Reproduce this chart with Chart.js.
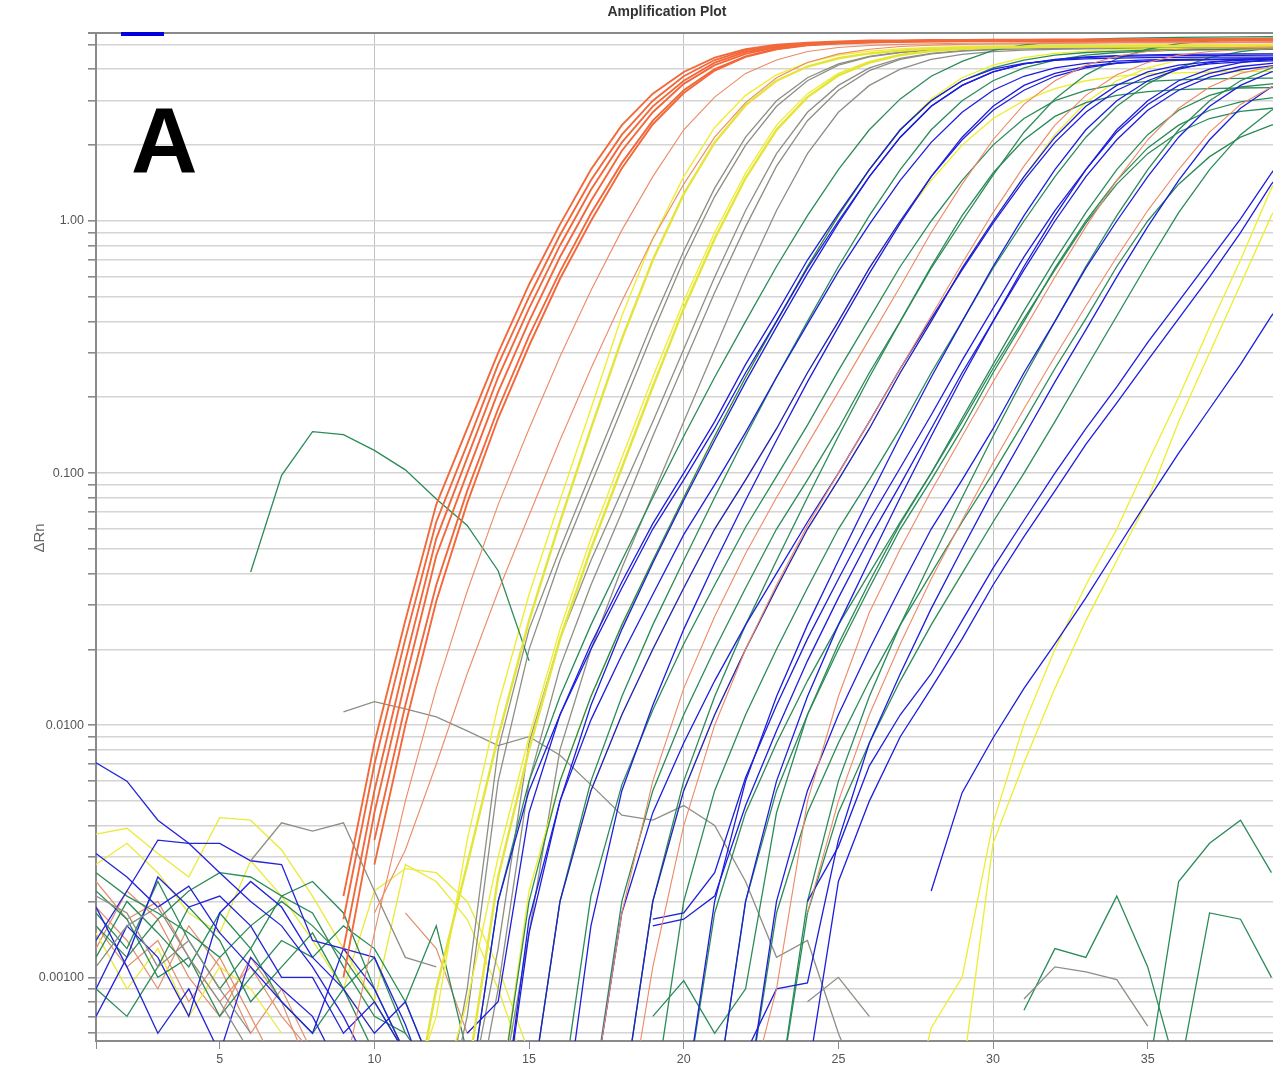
<!DOCTYPE html>
<html>
<head>
<meta charset="utf-8">
<script src="https://cdn.jsdelivr.net/npm/chart.js@4.4.1/dist/chart.umd.min.js"></script>
<style>
  html, body { margin: 0; padding: 0; background: #fff; }
  canvas { display: block; }
</style>
</head>
<body>
<canvas id="amp" width="1273" height="1065"></canvas>
<script>
// amplification plot, delta Rn per cycle, one run per well
const xTicks = [1, 5, 10, 15, 20, 25, 30, 35]
const yTicks = [0.0006, 0.0007, 0.0008, 0.0009, 0.001, 0.002, 0.003, 0.004, 0.005, 0.006, 0.007, 0.008, 0.009,
  0.01, 0.02, 0.03, 0.04, 0.05, 0.06, 0.07, 0.08, 0.09, 0.1, 0.2, 0.3, 0.4, 0.5, 0.6, 0.7, 0.8, 0.9, 1, 2, 3, 4, 5]
const yTickText = { "1": "1.00", "0.1": "0.100", "0.01": "0.0100", "0.001": "0.00100" }

const orangeRuns = [
  { from: 9, dRn: [0.0021, 0.0085, 0.026, 0.075, 0.15, 0.3, 0.56, 0.97, 1.6, 2.4, 3.2, 3.9, 4.45, 4.8, 5.0, 5.1, 5.15, 5.2, 5.2, 5.22, 5.22, 5.24, 5.24, 5.25, 5.25, 5.26, 5.26, 5.27, 5.27, 5.28, 5.28, 5.28] },
  { from: 9, dRn: [0.0017, 0.007, 0.022, 0.064, 0.13, 0.27, 0.5, 0.88, 1.45, 2.2, 3.0, 3.75, 4.35, 4.75, 4.95, 5.05, 5.12, 5.15, 5.18, 5.2, 5.2, 5.21, 5.22, 5.22, 5.23, 5.23, 5.24, 5.24, 5.25, 5.25, 5.25, 5.25] },
  { from: 9, dRn: [0.0013, 0.0055, 0.018, 0.055, 0.115, 0.24, 0.45, 0.8, 1.33, 2.05, 2.85, 3.6, 4.25, 4.68, 4.9, 5.02, 5.1, 5.14, 5.17, 5.18, 5.19, 5.2, 5.2, 5.21, 5.21, 5.22, 5.22, 5.22, 5.23, 5.23, 5.23, 5.23] },
  { from: 9, dRn: [0.001, 0.0045, 0.015, 0.047, 0.1, 0.21, 0.4, 0.72, 1.2, 1.9, 2.7, 3.5, 4.15, 4.6, 4.88, 5.0, 5.08, 5.12, 5.15, 5.16, 5.17, 5.18, 5.18, 5.19, 5.19, 5.2, 5.2, 5.2, 5.21, 5.21, 5.21, 5.21] },
  { from: 10, dRn: [0.0035, 0.012, 0.036, 0.085, 0.18, 0.35, 0.63, 1.07, 1.7, 2.5, 3.3, 4.0, 4.5, 4.82, 5.0, 5.08, 5.13, 5.16, 5.18, 5.19, 5.2, 5.2, 5.21, 5.21, 5.22, 5.22, 5.22, 5.23, 5.23, 5.23, 5.23] },
  { from: 10, dRn: [0.0028, 0.01, 0.031, 0.076, 0.165, 0.32, 0.59, 1.0, 1.62, 2.42, 3.22, 3.95, 4.48, 4.8, 4.98, 5.06, 5.1, 5.13, 5.15, 5.16, 5.17, 5.17, 5.18, 5.18, 5.18, 5.19, 5.19, 5.19, 5.2, 5.2, 5.2] }
]
const salmonRuns = [
  { from: 9, dRn: [0.0004, 0.0015, 0.005, 0.014, 0.034, 0.075, 0.15, 0.29, 0.53, 0.92, 1.5, 2.3, 3.1, 3.85, 4.35, 4.7, 4.88, 4.97, 5.02, 5.05, 5.07, 5.08, 5.09, 5.1, 5.1, 5.11, 5.11, 5.12, 5.12, 5.12, 5.13, 5.13] },
  { from: 10, dRn: [0.0018, 0.0032, 0.007, 0.016, 0.034, 0.068, 0.135, 0.26, 0.48, 0.85, 1.4, 2.15, 2.95, 3.7, 4.25, 4.6, 4.8, 4.92, 4.98, 5.02, 5.04, 5.05, 5.06, 5.07, 5.08, 5.08, 5.09, 5.09, 5.1, 5.1, 5.1] },
  { from: 17, dRn: [0.0003, 0.0018, 0.006, 0.014, 0.027, 0.048, 0.08, 0.13, 0.21, 0.34, 0.55, 0.9, 1.4, 2.1, 2.9, 3.6, 4.15, 4.5, 4.7, 4.8, 4.85, 4.88, 4.9, 4.91] },
  { from: 18, dRn: [0.0002, 0.0011, 0.004, 0.01, 0.02, 0.036, 0.062, 0.1, 0.16, 0.26, 0.42, 0.68, 1.08, 1.65, 2.4, 3.15, 3.8, 4.25, 4.55, 4.7, 4.78, 4.82, 4.84] },
  { from: 24, dRn: [0.0018, 0.005, 0.011, 0.021, 0.038, 0.065, 0.11, 0.18, 0.29, 0.46, 0.72, 1.1, 1.6, 2.25, 2.9, 3.4, 3.8] },
  { from: 22, dRn: [0.0003, 0.0009, 0.005, 0.013, 0.028, 0.05, 0.085, 0.14, 0.23, 0.37, 0.6, 0.95, 1.45, 2.1, 2.8, 3.4, 3.85, 4.1, 4.25] }
]
const yellowBoldRuns = [
  { from: 11, dRn: [0.0002, 0.0009, 0.0028, 0.009, 0.026, 0.064, 0.15, 0.34, 0.7, 1.28, 2.05, 2.88, 3.6, 4.1, 4.42, 4.62, 4.74, 4.82, 4.86, 4.89, 4.9, 4.91, 4.92, 4.92, 4.93, 4.93, 4.94, 4.94, 4.94, 4.94] },
  { from: 13, dRn: [0.0004, 0.0025, 0.008, 0.022, 0.05, 0.105, 0.22, 0.45, 0.85, 1.48, 2.3, 3.1, 3.78, 4.25, 4.55, 4.72, 4.82, 4.87, 4.9, 4.92, 4.93, 4.94, 4.94, 4.95, 4.95, 4.95, 4.96, 4.96] }
]
const yellowRuns = [
  { from: 11, dRn: [0.0003, 0.0007, 0.0035, 0.012, 0.033, 0.078, 0.18, 0.42, 0.85, 1.5, 2.35, 3.15, 3.8, 4.25, 4.55, 4.72, 4.82, 4.88, 4.92, 4.94, 4.96, 4.97, 4.98, 4.98, 4.99, 4.99, 5.0, 5.0, 5.0, 5.0] },
  { from: 12, dRn: [0.0003, 0.0008, 0.003, 0.009, 0.024, 0.055, 0.115, 0.24, 0.48, 0.9, 1.55, 2.4, 3.2, 3.85, 4.3, 4.58, 4.73, 4.82, 4.87, 4.9, 4.92, 4.93, 4.94, 4.94, 4.95, 4.95, 4.95, 4.96, 4.96] },
  { from: 14, dRn: [0.0003, 0.0022, 0.006, 0.013, 0.025, 0.045, 0.08, 0.14, 0.24, 0.4, 0.66, 1.05, 1.6, 2.3, 3.05, 3.7, 4.15, 4.45, 4.62, 4.72, 4.78, 4.81, 4.83, 4.84, 4.85, 4.85, 4.86] },
  { from: 15, dRn: [0.0003, 0.002, 0.0055, 0.011, 0.02, 0.035, 0.06, 0.094, 0.15, 0.25, 0.4, 0.65, 1.0, 1.45, 2.0, 2.55, 3.0, 3.35, 3.6, 3.75, 3.83, 3.87, 3.9, 3.91, 3.92, 3.92] },
  { from: 18, dRn: [0.0003, 0.002, 0.0055, 0.011, 0.02, 0.035, 0.06, 0.094, 0.15, 0.25, 0.4, 0.65, 1.0, 1.5, 2.2, 2.95, 3.6, 4.05, 4.35, 4.5, 4.58, 4.62, 4.64] },
  { from: 27, dRn: [0.0002, 0.00063, 0.001, 0.0041, 0.0101, 0.02, 0.036, 0.06, 0.11, 0.2, 0.38, 0.7, 1.35, 2.1] },
  { from: 29, dRn: [0.0004, 0.0034, 0.0071, 0.014, 0.026, 0.045, 0.078, 0.16, 0.3, 0.56, 1.05, 1.7] }
]
const grayRuns = [
  { from: 12, dRn: [0.0002, 0.0009, 0.008, 0.024, 0.05, 0.1, 0.2, 0.4, 0.76, 1.35, 2.15, 3.0, 3.7, 4.2, 4.5, 4.68, 4.78, 4.84, 4.87, 4.89, 4.9, 4.91, 4.91, 4.92, 4.92, 4.92, 4.93, 4.93, 4.93] },
  { from: 12, dRn: [0.0002, 0.0007, 0.006, 0.02, 0.045, 0.09, 0.18, 0.36, 0.7, 1.25, 2.0, 2.85, 3.6, 4.15, 4.48, 4.66, 4.76, 4.82, 4.85, 4.87, 4.88, 4.89, 4.9, 4.9, 4.9, 4.91, 4.91, 4.91, 4.91] },
  { from: 13, dRn: [0.0003, 0.0013, 0.0085, 0.022, 0.045, 0.085, 0.16, 0.31, 0.6, 1.1, 1.85, 2.7, 3.45, 4.05, 4.42, 4.62, 4.74, 4.8, 4.84, 4.86, 4.87, 4.88, 4.88, 4.89, 4.89, 4.89, 4.9, 4.9] },
  { from: 13, dRn: [0.0002, 0.0009, 0.006, 0.017, 0.036, 0.07, 0.14, 0.27, 0.52, 0.95, 1.65, 2.5, 3.3, 3.95, 4.38, 4.6, 4.72, 4.78, 4.82, 4.84, 4.85, 4.86, 4.86, 4.87, 4.87, 4.87, 4.88, 4.88] },
  { from: 14, dRn: [0.0003, 0.0015, 0.008, 0.02, 0.042, 0.082, 0.16, 0.31, 0.6, 1.1, 1.85, 2.7, 3.45, 4.0, 4.38, 4.58, 4.7, 4.76, 4.8, 4.82, 4.83, 4.84, 4.84, 4.85, 4.85, 4.85, 4.85] }
]
const blueRuns = [
  { from: 13, dRn: [0.0003, 0.002, 0.0055, 0.011, 0.02, 0.035, 0.06, 0.094, 0.15, 0.25, 0.4, 0.65, 1.0, 1.5, 2.15, 2.85, 3.45, 3.9, 4.2, 4.38, 4.48, 4.53, 4.56, 4.58, 4.59, 4.6, 4.6, 4.6] },
  { from: 14, dRn: [0.0002, 0.0015, 0.005, 0.012, 0.024, 0.044, 0.078, 0.135, 0.23, 0.38, 0.62, 0.98, 1.5, 2.15, 2.85, 3.45, 3.9, 4.2, 4.36, 4.45, 4.5, 4.52, 4.53, 4.54, 4.54, 4.55, 4.55] },
  { from: 13, dRn: [0.0006, 0.0008, 0.0045, 0.011, 0.021, 0.037, 0.063, 0.1, 0.16, 0.27, 0.43, 0.7, 1.07, 1.6, 2.3, 3.0, 3.6, 4.0, 4.22, 4.34, 4.4, 4.43, 4.45, 4.46, 4.47, 4.47, 4.47, 4.47] },
  { from: 14, dRn: [0.0002, 0.0017, 0.005, 0.0105, 0.019, 0.033, 0.057, 0.09, 0.145, 0.24, 0.39, 0.63, 0.97, 1.45, 2.05, 2.7, 3.3, 3.75, 4.05, 4.22, 4.31, 4.36, 4.38, 4.39, 4.4, 4.4, 4.4] },
  { from: 15, dRn: [0.0003, 0.002, 0.0055, 0.011, 0.02, 0.035, 0.06, 0.094, 0.15, 0.25, 0.4, 0.65, 1.0, 1.5, 2.1, 2.75, 3.3, 3.75, 4.05, 4.22, 4.3, 4.35, 4.37, 4.38, 4.38, 4.38] },
  { from: 16, dRn: [0.0002, 0.0016, 0.0055, 0.012, 0.024, 0.044, 0.078, 0.135, 0.23, 0.38, 0.62, 0.98, 1.5, 2.15, 2.85, 3.45, 3.85, 4.1, 4.24, 4.31, 4.35, 4.37, 4.38, 4.38, 4.38] },
  { from: 19, dRn: [0.0017, 0.0018, 0.0026, 0.0062, 0.012, 0.022, 0.038, 0.065, 0.105, 0.17, 0.28, 0.45, 0.72, 1.1, 1.6, 2.25, 2.9, 3.45, 3.85, 4.1, 4.22, 4.28] },
  { from: 19, dRn: [0.0016, 0.0017, 0.0021, 0.0048, 0.0095, 0.018, 0.032, 0.055, 0.09, 0.15, 0.25, 0.4, 0.64, 1.0, 1.5, 2.1, 2.75, 3.3, 3.72, 3.98, 4.12, 4.2] },
  { from: 17, dRn: [0.0003, 0.0018, 0.0045, 0.0085, 0.015, 0.025, 0.04, 0.064, 0.1, 0.16, 0.26, 0.41, 0.64, 0.98, 1.45, 2.05, 2.7, 3.3, 3.75, 4.05, 4.2, 4.28, 4.32, 4.34] },
  { from: 18, dRn: [0.0003, 0.002, 0.0055, 0.011, 0.02, 0.035, 0.06, 0.094, 0.15, 0.25, 0.4, 0.65, 1.0, 1.5, 2.15, 2.85, 3.45, 3.9, 4.15, 4.28, 4.34, 4.37, 4.39] },
  { from: 20, dRn: [0.0003, 0.002, 0.006, 0.013, 0.025, 0.045, 0.08, 0.14, 0.24, 0.4, 0.66, 1.05, 1.6, 2.3, 3.0, 3.6, 4.0, 4.25, 4.38, 4.44, 4.47] },
  { from: 22, dRn: [0.0005, 0.0009, 0.00095, 0.0035, 0.0085, 0.016, 0.029, 0.05, 0.085, 0.14, 0.23, 0.37, 0.6, 0.95, 1.45, 2.1, 2.8, 3.4, 3.8] },
  { from: 22, dRn: [0.0003, 0.002, 0.0055, 0.011, 0.02, 0.035, 0.06, 0.094, 0.15, 0.25, 0.4, 0.65, 1.0, 1.5, 2.15, 2.85, 3.45, 3.9, 4.15] },
  { from: 21, dRn: [0.0003, 0.002, 0.006, 0.013, 0.025, 0.045, 0.08, 0.14, 0.24, 0.4, 0.66, 1.05, 1.6, 2.3, 3.0, 3.6, 4.0, 4.25, 4.38, 4.44] },
  { from: 24, dRn: [0.002, 0.0033, 0.0069, 0.011, 0.016, 0.026, 0.042, 0.065, 0.1, 0.15, 0.22, 0.33, 0.48, 0.7, 1.02, 1.55, 2.2] },
  { from: 24, dRn: [0.0004, 0.0024, 0.005, 0.009, 0.014, 0.022, 0.036, 0.056, 0.085, 0.13, 0.19, 0.28, 0.41, 0.6, 0.9, 1.4, 2.0] },
  { from: 28, dRn: [0.0022, 0.0054, 0.0089, 0.014, 0.021, 0.032, 0.05, 0.078, 0.12, 0.18, 0.27, 0.42, 0.6] }
]
const greenRuns = [
  { from: 13, dRn: [0.0003, 0.002, 0.006, 0.013, 0.025, 0.045, 0.08, 0.14, 0.24, 0.4, 0.66, 1.05, 1.6, 2.3, 3.05, 3.75, 4.3, 4.75, 5.0, 5.15, 5.25, 5.3, 5.33, 5.35, 5.36, 5.37, 5.38, 5.38] },
  { from: 14, dRn: [0.0003, 0.002, 0.006, 0.013, 0.025, 0.045, 0.08, 0.14, 0.24, 0.4, 0.66, 1.05, 1.6, 2.3, 3.0, 3.6, 4.05, 4.35, 4.55, 4.66, 4.72, 4.76, 4.78, 4.79, 4.8, 4.8, 4.8] },
  { from: 15, dRn: [0.0003, 0.002, 0.006, 0.013, 0.025, 0.045, 0.08, 0.14, 0.24, 0.4, 0.66, 1.05, 1.6, 2.3, 3.0, 3.6, 4.05, 4.35, 4.55, 4.66, 4.72, 4.76, 4.78, 4.79, 4.8, 4.8] },
  { from: 16, dRn: [0.0003, 0.0021, 0.0058, 0.0115, 0.021, 0.036, 0.061, 0.097, 0.155, 0.255, 0.41, 0.66, 1.0, 1.45, 2.0, 2.55, 3.0, 3.3, 3.48, 3.58, 3.63, 3.66, 3.68, 3.69, 3.7] },
  { from: 17, dRn: [0.0003, 0.002, 0.0055, 0.011, 0.02, 0.035, 0.06, 0.094, 0.15, 0.25, 0.4, 0.65, 1.0, 1.52, 2.25, 3.05, 3.8, 4.4, 4.8, 5.05, 5.18, 5.25, 5.28, 5.3] },
  { from: 18, dRn: [0.0003, 0.002, 0.006, 0.013, 0.025, 0.045, 0.08, 0.14, 0.24, 0.4, 0.66, 1.05, 1.55, 2.1, 2.6, 2.95, 3.15, 3.26, 3.32, 3.35, 3.37, 3.38, 3.38] },
  { from: 19, dRn: [0.0003, 0.002, 0.0055, 0.011, 0.02, 0.035, 0.06, 0.094, 0.15, 0.25, 0.4, 0.65, 1.0, 1.5, 2.15, 2.85, 3.5, 4.05, 4.45, 4.7, 4.85, 4.92] },
  { from: 20, dRn: [0.0003, 0.0018, 0.0045, 0.0085, 0.015, 0.025, 0.04, 0.064, 0.1, 0.16, 0.26, 0.41, 0.64, 0.98, 1.4, 1.85, 2.25, 2.55, 2.72, 2.8, 2.84] },
  { from: 21, dRn: [0.0003, 0.002, 0.0055, 0.011, 0.02, 0.035, 0.06, 0.094, 0.15, 0.25, 0.4, 0.65, 1.0, 1.45, 1.95, 2.4, 2.75, 2.97, 3.08, 3.13] },
  { from: 23, dRn: [0.0003, 0.002, 0.006, 0.013, 0.025, 0.045, 0.08, 0.14, 0.24, 0.4, 0.66, 1.05, 1.6, 2.3, 3.0, 3.6, 4.05, 4.3] },
  { from: 22, dRn: [0.0003, 0.0018, 0.0045, 0.0085, 0.015, 0.025, 0.04, 0.064, 0.1, 0.16, 0.26, 0.41, 0.66, 1.0, 1.4, 1.8, 2.15, 2.4, 2.58, 2.7] },
  { from: 23, dRn: [0.0003, 0.0018, 0.0045, 0.0085, 0.015, 0.025, 0.04, 0.064, 0.1, 0.16, 0.26, 0.42, 0.68, 1.08, 1.6, 2.2, 2.75, 3.15, 3.4] },
  { from: 19, dRn: [0.0007, 0.00097, 0.0006, 0.0009, 0.0045, 0.011, 0.021, 0.037, 0.063, 0.1, 0.165, 0.27, 0.44, 0.7, 1.08, 1.6, 2.2, 2.75, 3.15, 3.4, 3.5, 3.55] },
  { from: 6, dRn: [0.0405, 0.098, 0.146, 0.142, 0.123, 0.103, 0.079, 0.062, 0.041, 0.018] }
]

// baseline wobble before the rise
const blueNoise = [
  { from: 1, dRn: [0.0071, 0.006, 0.0042, 0.0034, 0.0026, 0.002, 0.0016, 0.0011, 0.0007, 0.0004] },
  { from: 1, dRn: [0.0014, 0.0022, 0.0035, 0.0034, 0.0034, 0.0029, 0.0028, 0.0014, 0.0013, 0.0012, 0.00065, 0.0003] },
  { from: 1, dRn: [0.0031, 0.0025, 0.0019, 0.0023, 0.0015, 0.0011, 0.0008, 0.0006, 0.0013, 0.0009, 0.0005] },
  { from: 1, dRn: [0.0009, 0.0016, 0.0012, 0.0007, 0.0018, 0.0024, 0.0019, 0.0012, 0.0009, 0.0006, 0.0008, 0.0004] },
  { from: 1, dRn: [0.0019, 0.0011, 0.0006, 0.0009, 0.0005, 0.0012, 0.0009, 0.0007, 0.0004] },
  { from: 1, dRn: [0.0007, 0.0012, 0.0025, 0.0019, 0.0021, 0.0016, 0.001, 0.001, 0.0006, 0.0008, 0.0005] }
]
const greenNoise = [
  { from: 1, dRn: [0.0026, 0.0021, 0.0018, 0.0015, 0.0012, 0.0016, 0.002, 0.0016, 0.0012, 0.0008, 0.0005] },
  { from: 1, dRn: [0.0018, 0.0013, 0.0024, 0.0014, 0.0009, 0.0013, 0.0021, 0.0018, 0.0011, 0.0007, 0.0006, 0.0004] },
  { from: 1, dRn: [0.0012, 0.002, 0.0015, 0.0011, 0.0018, 0.0013, 0.0008, 0.0006, 0.0009, 0.0005] },
  { from: 1, dRn: [0.0022, 0.0017, 0.001, 0.0012, 0.0007, 0.001, 0.0014, 0.0012, 0.0016, 0.0013, 0.0008, 0.0004] },
  { from: 1, dRn: [0.0009, 0.0007, 0.0011, 0.0019, 0.0014, 0.0008, 0.0011, 0.0015, 0.0009, 0.0012, 0.0006] },
  { from: 1, dRn: [0.0016, 0.0012, 0.0017, 0.0022, 0.0026, 0.0025, 0.0021, 0.0024, 0.0018, 0.0009, 0.0005] },
  { from: 11, dRn: [0.0008, 0.0016, 0.0005] },
  { from: 31, dRn: [0.00074, 0.0013, 0.0012, 0.0021, 0.0011, 0.0004] },
  { from: 35, dRn: [0.0004, 0.0024, 0.0034, 0.0042, 0.0026] },
  { from: 36, dRn: [0.0004, 0.0018, 0.0017, 0.001] }
]
const yellowNoise = [
  { from: 1, dRn: [0.0037, 0.0039, 0.0031, 0.0025, 0.0043, 0.0042, 0.0032, 0.0021, 0.0013, 0.0008, 0.0005] },
  { from: 1, dRn: [0.0028, 0.0034, 0.0026, 0.0018, 0.0015, 0.0029, 0.0021, 0.0014, 0.0009, 0.0006] },
  { from: 1, dRn: [0.0015, 0.0009, 0.0013, 0.0007, 0.0011, 0.0009, 0.0006] },
  { from: 9, dRn: [0.0009, 0.0022, 0.0027, 0.0026, 0.002, 0.0011, 0.0005] },
  { from: 10, dRn: [0.0008, 0.0028, 0.0024, 0.0017, 0.0009, 0.0004] }
]
const orangeNoise = [
  { from: 1, dRn: [0.0024, 0.0017, 0.002, 0.0012, 0.0008, 0.0011, 0.0007, 0.0005] },
  { from: 1, dRn: [0.0019, 0.0014, 0.0009, 0.0016, 0.0011, 0.0006, 0.0009, 0.0005] },
  { from: 1, dRn: [0.0013, 0.0022, 0.0017, 0.001, 0.0007, 0.0012, 0.0008, 0.0004] },
  { from: 1, dRn: [0.0016, 0.0011, 0.0014, 0.0008, 0.0012, 0.0007, 0.0004] },
  { from: 11, dRn: [0.0018, 0.0013, 0.0006] }
]
const grayNoise = [
  { from: 9, dRn: [0.0113, 0.0124, 0.0116, 0.0108, 0.0095, 0.0083, 0.009, 0.0076, 0.0058, 0.0044, 0.0042, 0.0048, 0.004, 0.0024, 0.0012, 0.0014, 0.0006, 0.0003] },
  { from: 6, dRn: [0.0029, 0.0041, 0.0038, 0.0041, 0.0022, 0.0012, 0.0011] },
  { from: 1, dRn: [0.0021, 0.0018, 0.0011, 0.0014, 0.0009, 0.0006] },
  { from: 1, dRn: [0.0011, 0.0016, 0.0019, 0.0012, 0.0008, 0.0005] },
  { from: 31, dRn: [0.00082, 0.0011, 0.00105, 0.00098, 0.00064] },
  { from: 24, dRn: [0.0008, 0.001, 0.0007] }
]

var datasets = []
function addRuns(runs, color, width) {
  runs.forEach(function (r) {
    datasets.push({
      data: r.dRn.map(function (v, i) { return { x: r.from + i, y: v } }),
      borderColor: color,
      borderWidth: width,
      pointRadius: 0,
      tension: 0,
      fill: false
    })
  })
}
// first added ends up on top
addRuns(orangeRuns, "#f2683a", 1.9)
addRuns(salmonRuns, "#ec8a66", 1.1)
addRuns(yellowBoldRuns, "#e4e43a", 2.4)
addRuns(blueRuns, "#1d1ddc", 1.3)
addRuns(greenRuns, "#2b8b58", 1.3)
addRuns(yellowRuns, "#eeee2c", 1.3)
addRuns(grayRuns, "#8e8e86", 1.3)
addRuns(grayNoise, "#8e8e86", 1.3)
addRuns(blueNoise, "#2323d8", 1.3)
addRuns(greenNoise, "#2b8b58", 1.3)
addRuns(yellowNoise, "#eaea3a", 1.3)
addRuns(orangeNoise, "#e0906c", 1.2)

var decor = {
  id: "decor",
  afterDraw: function (chart) {
    var ctx = chart.ctx
    var a = chart.chartArea
    ctx.save()
    ctx.strokeStyle = "#8a8a8a"
    ctx.lineWidth = 2
    ctx.beginPath()
    ctx.moveTo(a.left - 8, a.top)
    ctx.lineTo(a.right, a.top)
    ctx.stroke()
    ctx.fillStyle = "#0000dd"
    ctx.fillRect(121, 32, 43, 4)
    ctx.fillStyle = "#333"
    ctx.font = "bold 14px 'Liberation Sans', Arial, sans-serif"
    ctx.textAlign = "center"
    ctx.textBaseline = "alphabetic"
    ctx.fillText("Amplification Plot", 667, 16)
    ctx.fillStyle = "#000"
    ctx.font = "bold 92px 'Liberation Sans', Arial, sans-serif"
    ctx.textAlign = "left"
    ctx.fillText("A", 131, 172)
    ctx.translate(40, 538)
    ctx.rotate(-Math.PI / 2)
    ctx.fillStyle = "#666"
    ctx.font = "15px 'Liberation Sans', Arial, sans-serif"
    ctx.textAlign = "center"
    ctx.textBaseline = "middle"
    ctx.fillText("ΔRn", 0, 0)
    ctx.restore()
  }
}

var ctx = document.getElementById("amp")
var chart = new Chart(ctx, {
  type: "line",
  data: { datasets: datasets },
  plugins: [decor],
  options: {
    responsive: false,
    animation: false,
    devicePixelRatio: 1,
    events: [],
    layout: { padding: { top: 33, left: 0, right: 0, bottom: 0 } },
    plugins: { legend: { display: false }, tooltip: { enabled: false }, title: { display: false } },
    scales: {
      x: {
        type: "linear",
        min: 1,
        max: 39.05,
        afterBuildTicks: function (scale) { scale.ticks = xTicks.map(function (v) { return { value: v } }) },
        afterFit: function (scale) { scale.height = 24 },
        ticks: {
          autoSkip: false,
          maxRotation: 0,
          padding: 3,
          color: "#555",
          font: { family: "'Liberation Sans', Arial, sans-serif", size: 12.5 },
          callback: function (v) { return v === 1 ? "" : String(v) }
        },
        grid: {
          color: function (c) { return (c.tick && c.tick.value % 10 === 0) ? "#c2c2c2" : "rgba(0,0,0,0)" },
          tickColor: "#8a8a8a",
          tickLength: 8,
          lineWidth: 1
        },
        border: { color: "#8a8a8a", width: 2 }
      },
      y: {
        type: "logarithmic",
        min: 0.000559,
        max: 5.568,
        afterBuildTicks: function (scale) { scale.ticks = yTicks.map(function (v) { return { value: v } }) },
        afterFit: function (scale) { scale.width = 96 },
        ticks: {
          autoSkip: false,
          padding: 4,
          color: "#555",
          font: { family: "'Liberation Sans', Arial, sans-serif", size: 12.5 },
          callback: function (v) { return yTickText[String(v)] || "" }
        },
        grid: {
          color: "#d4d4d4",
          tickColor: "#8a8a8a",
          tickLength: 8,
          lineWidth: 1.6
        },
        border: { color: "#8a8a8a", width: 2 }
      }
    }
  }
})
</script>
</body>
</html>
